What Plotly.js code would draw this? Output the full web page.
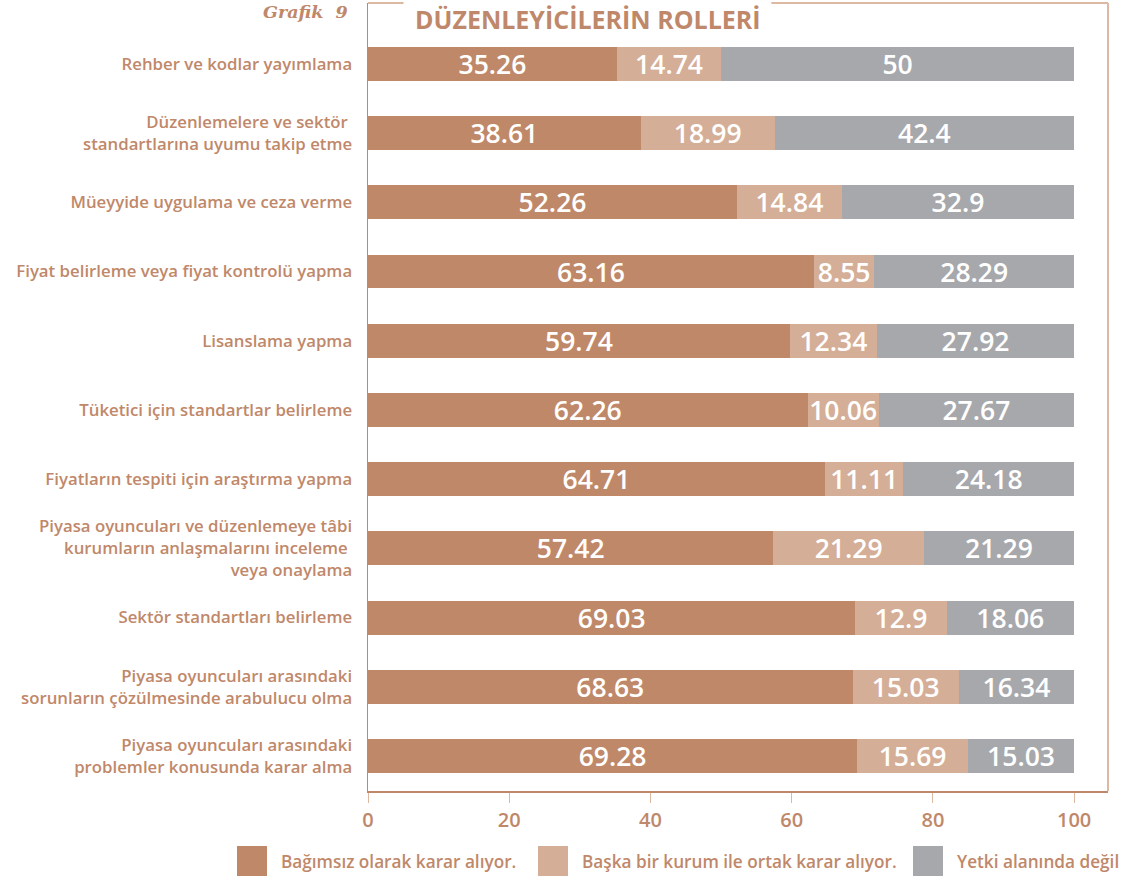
<!DOCTYPE html>
<html>
<head>
<meta charset="utf-8">
<script src="https://cdn.plot.ly/plotly-3.0.1.min.js"></script>
<style>html,body{margin:0;padding:0;background:#fff;}#chart{width:1134px;height:880px;}</style>
</head>
<body>
<div id="chart"></div>
<script>
const categories = [
  "Rehber ve kodlar yayımlama",
  "Düzenlemelere ve sektör <br>standartlarına uyumu takip etme",
  "Müeyyide uygulama ve ceza verme",
  "Fiyat belirleme veya fiyat kontrolü yapma",
  "Lisanslama yapma",
  "Tüketici için standartlar belirleme",
  "Fiyatların tespiti için araştırma yapma",
  "Piyasa oyuncuları ve düzenlemeye tâbi<br>kurumların anlaşmalarını inceleme <br>veya onaylama",
  "Sektör standartları belirleme",
  "Piyasa oyuncuları arasındaki<br>sorunların çözülmesinde arabulucu olma",
  "Piyasa oyuncuları arasındaki<br>problemler konusunda karar alma"
];
const bagimsiz = [35.26, 38.61, 52.26, 63.16, 59.74, 62.26, 64.71, 57.42, 69.03, 68.63, 69.28];
const ortak    = [14.74, 18.99, 14.84, 8.55, 12.34, 10.06, 11.11, 21.29, 12.9, 15.03, 15.69];
const yetkiDegil = [50, 42.4, 32.9, 28.29, 27.92, 27.67, 24.18, 21.29, 18.06, 16.34, 15.03];
const seriesNames = ["Bağımsız olarak karar alıyor.", "Başka bir kurum ile ortak karar alıyor.", "Yetki alanında değil"];
const xTicks = [0, 20, 40, 60, 80, 100];

const colors = ["#BF8869", "#D4AE97", "#A7A8AC"];
const brown = "#C0886A";
const tan = "#DDB9A3";
const font = "'Open Sans', Lato, sans-serif";

const idx = categories.map((_, i) => i);
function mk(vals, name, color) {
  return {
    type: "bar", orientation: "h", name: name,
    y: idx, x: vals,
    marker: {color: color, line: {width: 0}},
    text: vals.map(v => String(v)),
    textposition: "inside", insidetextanchor: "middle", textangle: 0,
    constraintext: "none",
    textfont: {family: font, size: 26.5, color: "#ffffff", weight: 600},
    hoverinfo: "skip", width: 0.49, showlegend: false
  };
}
const data = [
  mk(bagimsiz, seriesNames[0], colors[0]),
  mk(ortak, seriesNames[1], colors[1]),
  mk(yetkiDegil, seriesNames[2], colors[2])
];

const shapes = [
  {type: "line", xref: "paper", yref: "paper", x0: 1, x1: 1, y0: 0, y1: 1, line: {color: tan, width: 2}},
  {type: "line", xref: "paper", yref: "paper", x0: 0, x1: 0.048, y0: 1, y1: 1, line: {color: tan, width: 2}},
  {type: "line", xref: "paper", yref: "paper", x0: 0.545, x1: 1, y0: 1, y1: 1, line: {color: tan, width: 2}}
];
const annotations = [
  {xref: "paper", yref: "paper", x: -0.024, y: 1.0038, xanchor: "right", yanchor: "top", showarrow: false,
   text: "<i>Grafik  9</i>", font: {family: "'DejaVu Serif', serif", size: 17.5, color: brown, weight: 700}},
  {xref: "paper", yref: "paper", x: 0.297, y: 1.0038, xanchor: "center", yanchor: "top", showarrow: false,
   text: "DÜZENLEYİCİLERİN ROLLERİ", font: {family: font, size: 25, color: brown, weight: 700}}
];
// legend
const legX = [237, 538, 913];
for (let i = 0; i < 3; i++) {
  const px0 = (legX[i] - 368) / 740;
  const px1 = (legX[i] + 30 - 368) / 740;
  shapes.push({type: "rect", xref: "paper", yref: "paper", x0: px0, x1: px1,
    y0: -(876 - 791) / 788, y1: -(846 - 791) / 788, fillcolor: colors[i], line: {width: 0}});
  annotations.push({xref: "paper", yref: "paper", x: (legX[i] + 42 - 368) / 740, y: -(861 - 791) / 788,
    xanchor: "left", yanchor: "middle", showarrow: false, text: seriesNames[i],
    font: {family: font, size: 17.2, color: brown, weight: 600}});
}

const layout = {
  width: 1134, height: 880,
  margin: {l: 368, r: 26, t: 3, b: 89},
  barmode: "stack",
  paper_bgcolor: "#ffffff", plot_bgcolor: "#ffffff",
  showlegend: false,
  xaxis: {
    range: [0, 104.8], tickvals: xTicks, ticktext: xTicks.map(String),
    showgrid: false, zeroline: false,
    showline: true, linecolor: brown, linewidth: 1.5,
    ticks: "outside", ticklen: 10, tickcolor: tan, tickwidth: 1,
    tickfont: {family: font, size: 20, color: brown, weight: 600}
  },
  yaxis: {
    range: [10.506, -0.88], tickvals: idx, ticktext: categories,
    showgrid: false, zeroline: false,
    showline: true, linecolor: brown, linewidth: 1.5,
    ticks: "", ticklabelstandoff: 11,
    tickfont: {family: font, size: 16.8, color: brown, weight: 600}
  },
  shapes: shapes,
  annotations: annotations
};
Plotly.newPlot("chart", data, layout, {displayModeBar: false, staticPlot: true});
</script>
</body>
</html>
